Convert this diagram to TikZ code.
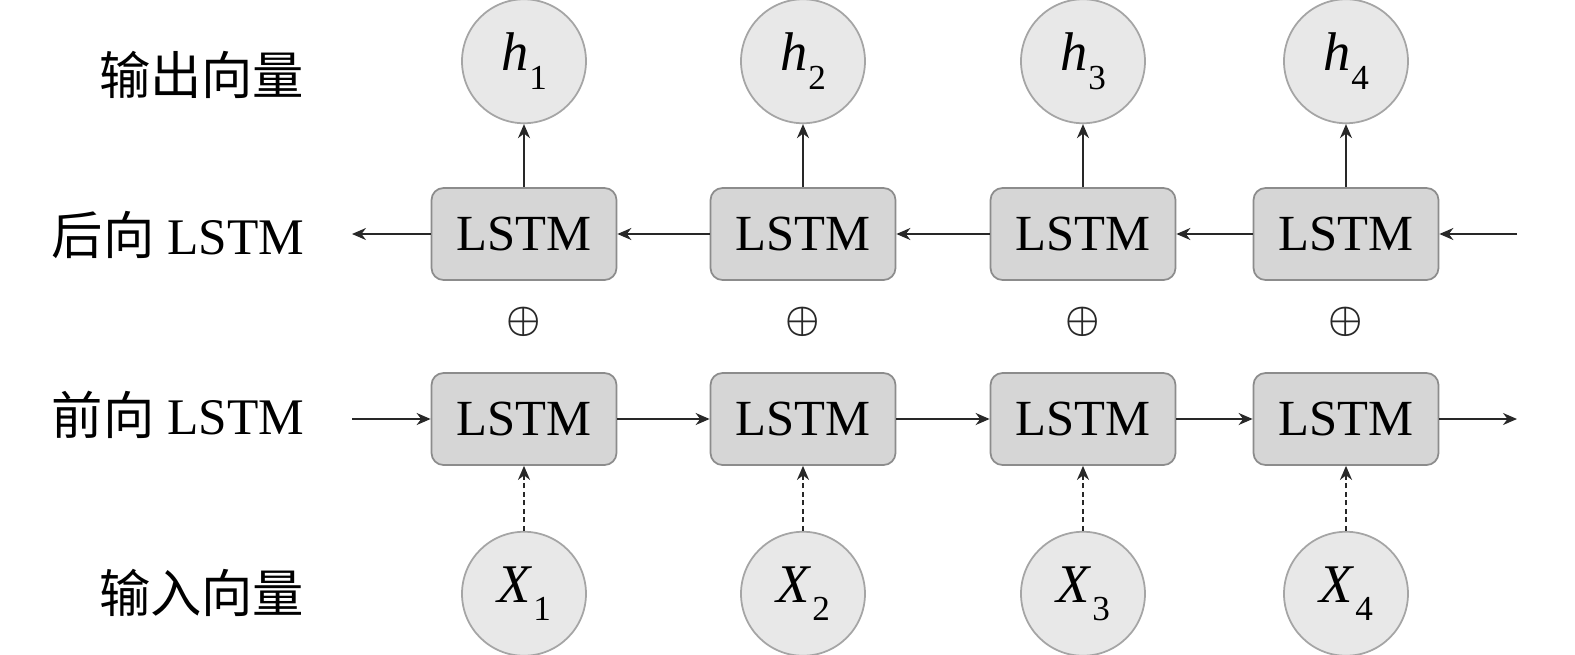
\documentclass[tikz,border=0pt]{standalone}
\usepackage{fontspec}
\setmainfont{Liberation Serif}
\newfontfamily\cjk{Noto Sans CJK SC}
\usetikzlibrary{positioning,arrows.meta}

\definecolor{boxfill}{RGB}{214,214,214}
\definecolor{boxline}{RGB}{140,140,140}
\definecolor{vecfill}{RGB}{232,232,232}
\definecolor{vecline}{RGB}{165,165,165}
\definecolor{arrowcol}{RGB}{40,40,40}

\newcommand{\lowsub}[1]{\kern0.3pt\raisebox{-0.75ex}{\fontsize{10}{10}\selectfont #1}}

\tikzset{
  lstm/.style={draw=boxline, fill=boxfill, rounded corners=1.2mm, line width=0.5pt,
    minimum width=18.5mm, minimum height=9.2mm, inner sep=0pt, font=\fontsize{14.4}{16}\selectfont},
  vec/.style={circle, draw=vecline, fill=vecfill, line width=0.5pt,
    minimum size=12.4mm, inner sep=0pt, font=\fontsize{15.5}{16}\selectfont},
  rowlabel/.style={anchor=east, inner sep=0pt, font=\fontsize{14.6}{16}\selectfont},
  plus/.style={inner sep=0pt, text=arrowcol, font=\fontsize{11.2}{12}\selectfont\boldmath},
  flow/.style={-{Stealth[length=1.4mm,width=1.2mm]}, draw=arrowcol, line width=0.55pt},
  feed/.style={flow, line width=0.6pt, dash pattern=on 0.5mm off 0.35mm},
}

\begin{document}
\begin{tikzpicture}
      \useasboundingbox (0,0) rectangle (15.75,-6.55);

      % backward LSTM row
      \node[lstm] (b1) at (5.24,-2.34) {LSTM};
      \node[lstm] (b2) at (8.03,-2.34) {LSTM};
      \node[lstm] (b3) at (10.83,-2.34) {LSTM};
      \node[lstm] (b4) at (13.46,-2.34) {LSTM};

      % forward LSTM row
      \node[lstm] (f1) at (5.24,-4.19) {LSTM};
      \node[lstm] (f2) at (8.03,-4.19) {LSTM};
      \node[lstm] (f3) at (10.83,-4.19) {LSTM};
      \node[lstm] (f4) at (13.46,-4.19) {LSTM};

      \node[above=6.3mm of b1, vec] (h1) {\textit{h}\lowsub{1}};
      \node[above=6.3mm of b2, vec] (h2) {\textit{h}\lowsub{2}};
      \node[above=6.3mm of b3, vec] (h3) {\textit{h}\lowsub{3}};
      \node[above=6.3mm of b4, vec] (h4) {\textit{h}\lowsub{4}};

      \node[below=6.5mm of f1, vec] (x1) {\textit{X}\lowsub{1}};
      \node[below=6.5mm of f2, vec] (x2) {\textit{X}\lowsub{2}};
      \node[below=6.5mm of f3, vec] (x3) {\textit{X}\lowsub{3}};
      \node[below=6.5mm of f4, vec] (x4) {\textit{X}\lowsub{4}};

      \node[plus] (p1) at (5.24,-3.22) {$\oplus$};
      \node[plus] (p2) at (8.03,-3.22) {$\oplus$};
      \node[plus] (p3) at (10.83,-3.22) {$\oplus$};
      \node[plus] (p4) at (13.46,-3.22) {$\oplus$};

      \node[rowlabel] (lout) at (3.05,-0.75) {\cjk 输出向量};
      \node[rowlabel] (lback) at (3.05,-2.35) {{\cjk 后向} LSTM};
      \node[rowlabel] (lfwd) at (3.05,-4.15) {{\cjk 前向} LSTM};
      \node[rowlabel] (lin) at (3.05,-5.93) {\cjk 输入向量};

      \coordinate (bin) at (15.17,-2.34);
      \coordinate (bout) at (3.52,-2.34);
      \coordinate (fin) at (3.52,-4.19);
      \coordinate (fout) at (15.17,-4.19);

      \draw[flow] (bin)--(b4);
      \draw[flow] (b4)--(b3);
      \draw[flow] (b3)--(b2);
      \draw[flow] (b2)--(b1);
      \draw[flow] (b1)--(bout);

      \draw[flow] (fin)--(f1);
      \draw[flow] (f1)--(f2);
      \draw[flow] (f2)--(f3);
      \draw[flow] (f3)--(f4);
      \draw[flow] (f4)--(fout);

      \draw[flow] (b1)--(h1);
      \draw[flow] (b2)--(h2);
      \draw[flow] (b3)--(h3);
      \draw[flow] (b4)--(h4);

      \draw[feed] (x1)--(f1);
      \draw[feed] (x2)--(f2);
      \draw[feed] (x3)--(f3);
      \draw[feed] (x4)--(f4);
    \end{tikzpicture}
\end{document}
